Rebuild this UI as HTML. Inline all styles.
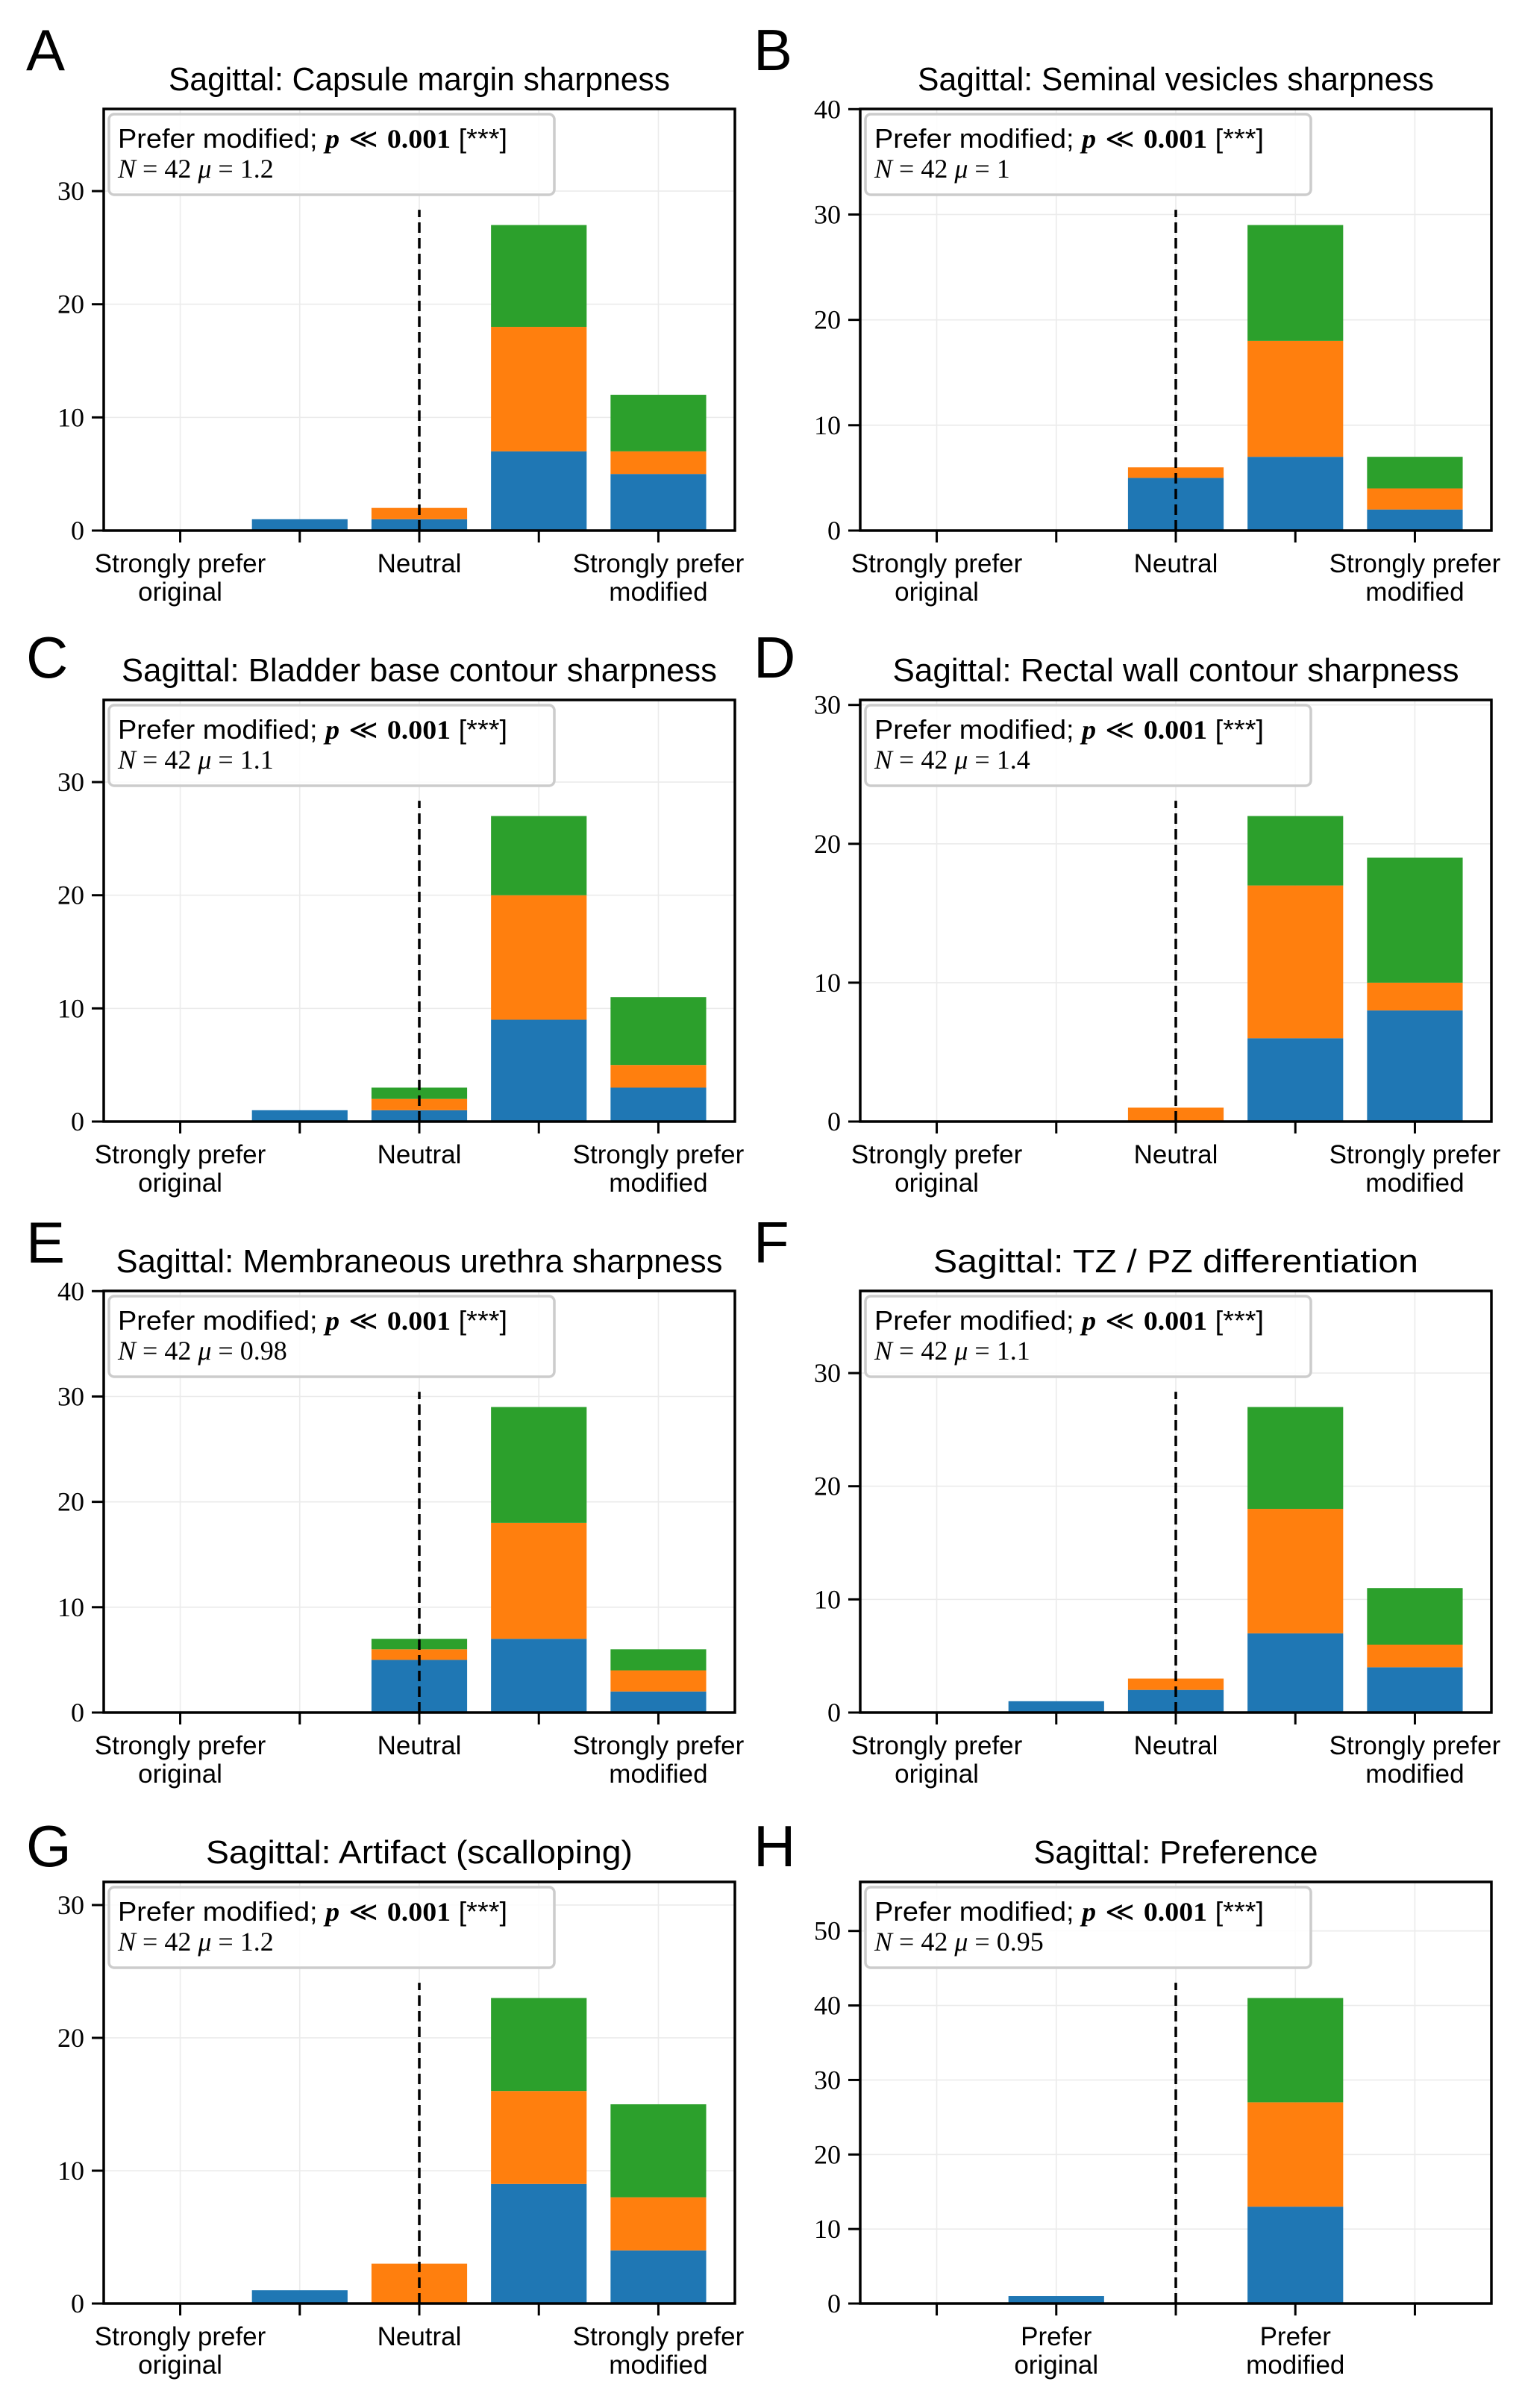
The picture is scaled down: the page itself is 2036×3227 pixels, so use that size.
<!DOCTYPE html>
<html><head><meta charset="utf-8"><style>
html,body{margin:0;padding:0;background:#fff;}
svg{display:block;}
.sans{font-family:"Liberation Sans",sans-serif;}
.serif{font-family:"Liberation Serif",serif;}
</style></head><body>
<svg id="fig" width="2036" height="3227" viewBox="0 0 2036 3227" xmlns="http://www.w3.org/2000/svg"></svg>
<script>
// ---- data ----
const panelLetters = ["A","B","C","D","E","F","G","H"];
const panelTitles = ["Sagittal:  Capsule margin sharpness","Sagittal:  Seminal vesicles sharpness","Sagittal:  Bladder base contour sharpness","Sagittal:  Rectal wall contour sharpness","Sagittal:  Membraneous urethra sharpness","Sagittal:  TZ / PZ differentiation","Sagittal:  Artifact (scalloping)","Sagittal:  Preference"];
const titleWidths = [672,692,798,759,813,650,572,381];
const muLabels = ["1.2","1","1.1","1.4","0.98","1.1","1.2","0.95"];
const nLabel = "42";
const categories = [0,1,2,3,4];
const blueValues = [[0,1,1,7,5],[0,0,5,7,2],[0,1,1,9,3],[0,0,0,6,8],[0,0,5,7,2],[0,1,2,7,4],[0,1,0,9,4],[0,1,0,13,0]];
const orangeValues = [[0,0,1,11,2],[0,0,1,11,2],[0,0,1,11,2],[0,0,1,11,2],[0,0,1,11,2],[0,0,1,11,2],[0,0,3,7,4],[0,0,0,14,0]];
const greenValues = [[0,0,0,9,5],[0,0,0,11,3],[0,0,1,7,6],[0,0,0,5,9],[0,0,1,11,2],[0,0,0,9,5],[0,0,0,7,7],[0,0,0,14,0]];
const tickLabels5 = [["Strongly prefer","original"],[""],["Neutral"],[""],["Strongly prefer","modified"]];
const tickLabelsH = [[""],["Prefer","original"],[""],["Prefer","modified"],[""]];

// ---- layout ----
const NS="http://www.w3.org/2000/svg";
const svg=document.getElementById('fig');
const colLeft=[139,1153], axW=846;
const rowTop=[146,938,1730,2522], axH=565;
const letterBase=[94,908,1692,2501];
const letterX=[35,1010];
const colors=["#1f77b4","#ff7f0e","#2ca02c"];
function mk(tag,attrs,parent){const e=document.createElementNS(NS,tag);for(const k in attrs)e.setAttribute(k,attrs[k]);(parent||svg).appendChild(e);return e;}

for(let p=0;p<8;p++){
  const col=p%2,row=Math.floor(p/2);
  const L=colLeft[col],T=rowTop[row],R=L+axW,B=T+axH;
  const g=mk('g',{});
  
  
  const totals=categories.map((c,i)=>blueValues[p][i]+orangeValues[p][i]+greenValues[p][i]);
  const maxT=Math.max(...totals);
  const ymax=maxT*1.38;
  const xs=v=>L+(v+0.64)/5.28*axW;
  const ys=v=>B-v/ymax*axH;
  // letter
  const lt=mk('text',{x:letterX[col],y:letterBase[row],'font-size':78,class:'sans'},g);
  lt.textContent=panelLetters[p];
  
  
  // title
  const tt=mk('text',{x:(L+R)/2,y:T-25,'font-size':44,class:'sans','text-anchor':'middle',textLength:titleWidths[p],lengthAdjust:'spacingAndGlyphs'},g);
  tt.textContent=panelTitles[p];
  
  
  // grid
  for(const c of categories){
    const gl=mk('line',{x1:xs(c),x2:xs(c),y1:T,y2:B,stroke:'#ebebeb','stroke-width':1.6},g);
    
    
  }
  const yt=[];for(let v=0;v<=ymax;v+=10)yt.push(v);
  for(const v of yt){
    const gl=mk('line',{x1:L,x2:R,y1:ys(v),y2:ys(v),stroke:'#ebebeb','stroke-width':1.6},g);
    
    
    const tk=mk('line',{x1:L-16,x2:L,y1:ys(v),y2:ys(v),stroke:'#000','stroke-width':3},g);
    
    
    const tl=mk('text',{x:L-26,y:ys(v)+12,'font-size':36,class:'serif','text-anchor':'end'},g);
    tl.textContent=String(v);
    
    
  }
  // bars
  const bw=0.8/5.28*axW;
  for(const c of categories){
    let base=0;
    const series=[blueValues[p][c],orangeValues[p][c],greenValues[p][c]];
    series.forEach((v,si)=>{
      if(v>0){
        const r=mk('rect',{x:xs(c)-bw/2,y:ys(base+v),width:bw,height:ys(base)-ys(base+v),fill:colors[si]},g);
        
        
      }
      base+=v;
    });
  }
  // dashed line
  const dl=mk('line',{x1:xs(2),x2:xs(2),y1:B,y2:ys(maxT*1.05),stroke:'#000','stroke-width':3.5,'stroke-dasharray':'14,7'},g);
  
  
  // x ticks + labels
  const labs=p===7?tickLabelsH:tickLabels5;
  for(const c of categories){
    const tk=mk('line',{x1:xs(c),x2:xs(c),y1:B,y2:B+16,stroke:'#000','stroke-width':3},g);
    
    
    labs[c].forEach((s,li)=>{
      if(!s)return;
      const tl=mk('text',{x:xs(c),y:B+56+li*38,'font-size':35,class:'sans','text-anchor':'middle'},g);
      tl.textContent=s;
      
      
    });
  }
  // axes frame
  const fr=mk('rect',{x:L,y:T,width:axW,height:axH,fill:'none',stroke:'#000','stroke-width':3.5},g);
  
  
  // legend
  const lb=mk('rect',{x:L+7,y:T+7,width:597,height:108,rx:7,fill:'#fff','fill-opacity':0.85,stroke:'#cccccc','stroke-width':3.5},g);
  
  
  const l1=mk('text',{x:L+19,y:T+52,'font-size':36,textLength:522,lengthAdjust:'spacingAndGlyphs'},g);
  
  
  l1.innerHTML='<tspan font-family="Liberation Sans, sans-serif">Prefer modified; </tspan><tspan font-family="Liberation Serif, serif" font-weight="bold" font-style="italic">p</tspan><tspan font-family="DejaVu Serif, serif"> ≪ </tspan><tspan font-family="Liberation Serif, serif" font-weight="bold">0.001</tspan><tspan font-family="Liberation Sans, sans-serif"> [***]</tspan>';
  const l2=mk('text',{x:L+19,y:T+92,'font-size':36,class:'serif'},g);
  
  
  l2.innerHTML='<tspan font-style="italic">N</tspan> = '+nLabel+' <tspan font-style="italic">μ</tspan> = '+muLabels[p];
}
</script>
</body></html>
